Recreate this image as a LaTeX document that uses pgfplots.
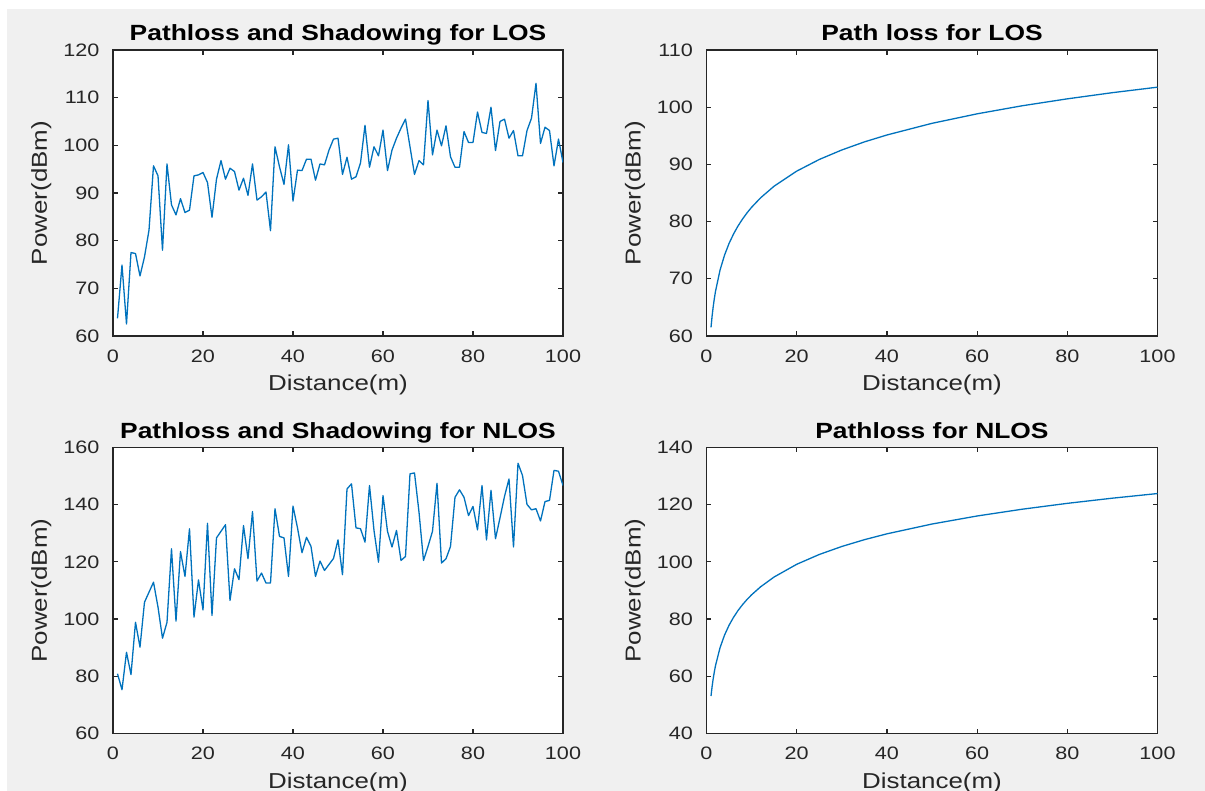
\documentclass[border=0pt]{standalone}
\usepackage{fontspec}
\setmainfont[FakeStretch=1.2]{Liberation Sans}
\usepackage{pgfplots}
\pgfplotsset{compat=1.18}
\usepackage{pgfplotstable}

\definecolor{mlblue}{RGB}{0,114,189}
\definecolor{axgray}{RGB}{38,38,38}
\definecolor{bggray}{RGB}{240,240,240}

\pgfplotstableread{
d p
1 63.7
2 74.9
3 62.5
4 77.5
5 77.3
6 72.6
7 76.6
8 82.2
9 95.7
10 93.6
11 78.0
12 96.1
13 87.5
14 85.4
15 88.8
16 85.9
17 86.4
18 93.6
19 93.8
20 94.3
21 92.2
22 84.9
23 92.9
24 96.8
25 92.9
26 95.2
27 94.5
28 90.6
29 93.1
30 89.5
31 96.1
32 88.5
33 89.2
34 90.2
35 82.1
36 99.7
37 95.5
38 91.8
39 100.1
40 88.3
41 94.8
42 94.7
43 97.1
44 97.1
45 92.7
46 96.1
47 95.9
48 99.0
49 101.3
50 101.5
51 93.9
52 97.5
53 92.9
54 93.4
55 96.3
56 104.2
57 95.4
58 99.7
59 97.8
60 103.2
61 94.7
62 99.0
63 101.5
64 103.6
65 105.5
66 99.7
67 93.9
68 96.8
69 95.9
70 109.4
71 98.0
72 103.2
73 99.9
74 104.1
75 97.6
76 95.4
77 95.4
78 102.9
79 100.6
80 100.6
81 107.0
82 102.7
83 102.5
84 108.0
85 98.9
86 105.0
87 105.5
88 101.5
89 103.1
90 97.8
91 97.8
92 103.1
93 105.7
94 113.0
95 100.4
96 103.8
97 103.1
98 95.7
99 101.3
100 96.4
}\losshadow

\pgfplotstableread{
d p
1 80.9
2 75.3
3 88.4
4 80.6
5 98.9
6 90.2
7 105.9
8 109.4
9 112.9
10 104.2
11 93.3
12 98.9
13 124.6
14 99.3
15 123.6
16 114.9
17 131.6
18 100.7
19 113.7
20 103.2
21 133.5
22 101.3
23 128.4
24 130.7
25 133.0
26 106.5
27 117.6
28 113.8
29 132.7
30 121.1
31 137.6
32 113.3
33 116.1
34 112.6
35 112.6
36 138.6
37 128.9
38 128.4
39 114.9
40 139.5
41 131.9
42 123.2
43 128.6
44 125.4
45 114.9
46 120.3
47 117.0
48 119.1
49 121.2
50 127.7
51 115.5
52 145.5
53 147.3
54 131.9
55 131.6
56 126.9
57 146.7
58 131.0
59 119.9
60 143.2
61 130.7
62 125.2
63 131.0
64 120.5
65 121.9
66 150.8
67 151.1
68 137.4
69 120.5
70 125.4
71 130.7
72 147.5
73 119.6
74 121.1
75 125.4
76 142.6
77 145.2
78 142.6
79 136.2
80 139.4
81 131.2
82 146.7
83 127.7
84 145.0
85 128.1
86 135.4
87 142.9
88 149.0
89 125.2
90 154.5
91 150.2
92 140.1
93 138.2
94 138.6
95 134.3
96 141.1
97 141.5
98 152.0
99 151.7
100 146.7
}\nlosshadow

\pgfplotstableread{
d p
1 61.50
1.25 63.54
1.5 65.20
1.75 66.60
2 67.82
3 71.52
4 74.14
5 76.18
6 77.84
7 79.25
8 80.46
9 81.54
10 82.50
12 84.16
15 86.20
20 88.82
25 90.86
30 92.52
35 93.93
40 95.14
50 97.18
60 98.84
70 100.25
80 101.46
90 102.54
100 103.50
}\losmean

\pgfplotstableread{
d p
1 53.10
1.25 56.53
1.5 59.33
1.75 61.70
2 63.76
3 69.99
4 74.41
5 77.84
6 80.65
7 83.02
8 85.07
9 86.88
10 88.50
12 91.30
15 94.73
20 99.16
25 102.59
30 105.39
35 107.76
40 109.81
50 113.24
60 116.05
70 118.42
80 120.47
90 122.28
100 123.90
}\nlosmean

\pgfplotsset{
  mlstyle/.style={
    scale only axis, width=225pt, height=143pt,
    anchor=south west,
    axis line style={draw=axgray, line width=0.6pt},
    tick style={draw=axgray, line width=0.6pt},
    tick align=inside, xtick pos=both, ytick pos=both,
    xticklabel pos=lower, yticklabel pos=left,
    major tick length=2.3pt,
    xmin=0, xmax=100, xtick={0,20,...,100},
    axis background/.style={fill=white},
    /pgf/number format/assume math mode=true,
    ticklabel style={font=\fontsize{9}{10}\selectfont, text=axgray},
    xticklabel style={yshift=-3.25pt},
    yticklabel style={xshift=-3.3pt},
    every axis title/.style={at={(axis description cs:0.5,1)}, anchor=base, yshift=4.5pt, font=\bfseries\fontsize{11}{13}\selectfont, text=black},
    every axis x label/.style={at={(axis description cs:0.5,0)}, anchor=base, yshift=-27.5pt, font=\fontsize{10.8}{12}\selectfont, text=axgray},
    every axis y label/.style={at={(axis description cs:0,0.5)}, xshift=-33pt, rotate=90, anchor=base, font=\fontsize{10.8}{12}\selectfont, text=axgray},
    xlabel={Distance(m)}, ylabel={Power(dBm)},
  },
  mlline/.style={draw=mlblue, line width=0.65pt, mark=none, line join=round},
}

\begin{document}
\begin{tikzpicture}[x=1pt,y=1pt]
\fill[white] (0,0) rectangle (602.5,395.5);
\fill[bggray] (3.5,0) rectangle (602.5,391);
\useasboundingbox (0,0) rectangle (602.5,395.5);

\begin{axis}[mlstyle, at={(56.5pt,227.5pt)},
  ymin=60, ymax=120, ytick={60,70,...,120},
  title={Pathloss and Shadowing for LOS}]
\addplot[mlline] table[x=d,y=p] {\losshadow};
\end{axis}

\begin{axis}[mlstyle, at={(353.25pt,227.5pt)}, width=225.5pt,
  ymin=60, ymax=110, ytick={60,70,...,110},
  title={Path loss for LOS}]
\addplot[mlline] table[x=d,y=p] {\losmean};
\end{axis}

\begin{axis}[mlstyle, at={(56.5pt,28.75pt)},
  ymin=60, ymax=160, ytick={60,80,...,160},
  title={Pathloss and Shadowing for NLOS}]
\addplot[mlline] table[x=d,y=p] {\nlosshadow};
\end{axis}

\begin{axis}[mlstyle, at={(353.25pt,28.75pt)}, width=225.5pt,
  ymin=40, ymax=140, ytick={40,60,...,140},
  title={Pathloss for NLOS}]
\addplot[mlline] table[x=d,y=p] {\nlosmean};
\end{axis}
\end{tikzpicture}
\end{document}
